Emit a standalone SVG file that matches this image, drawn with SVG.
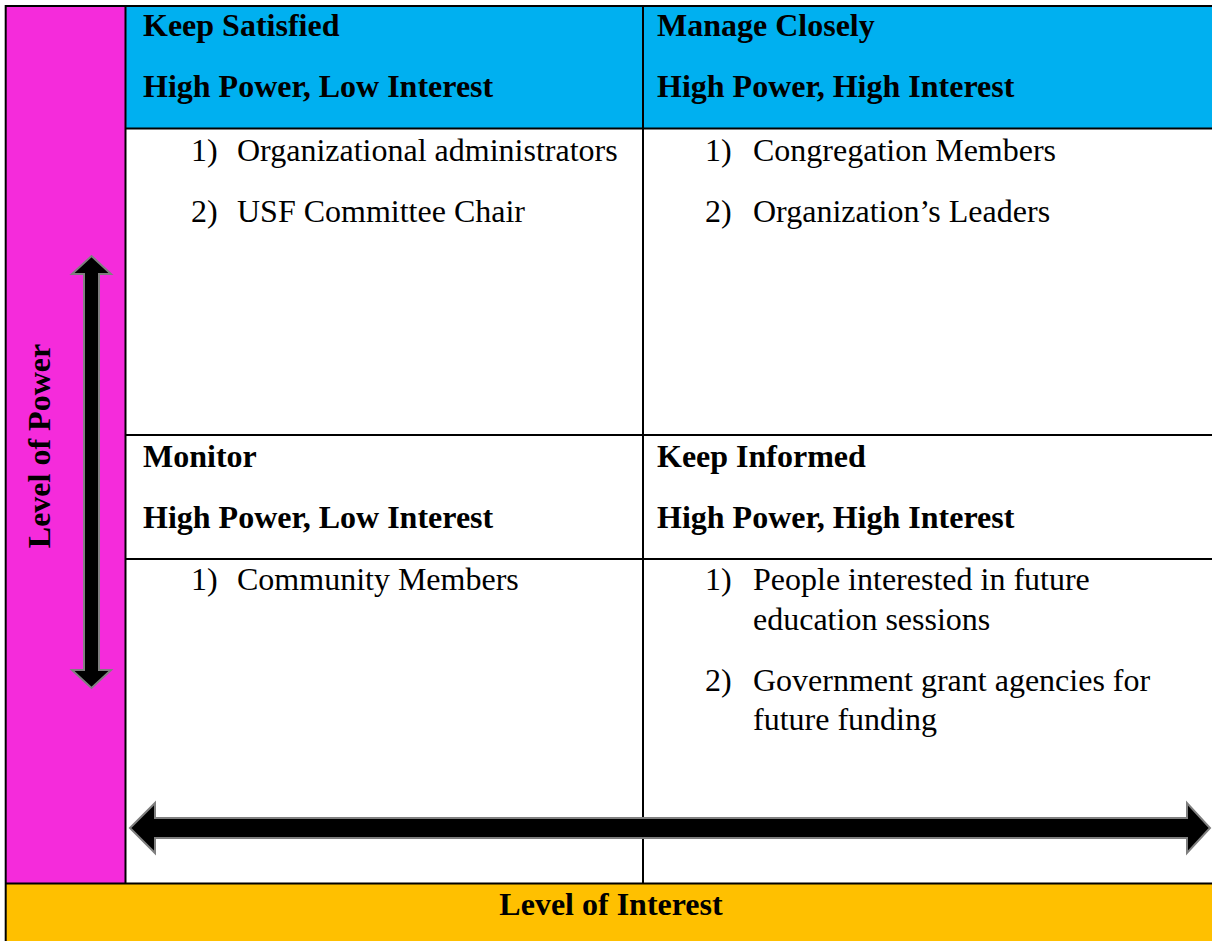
<svg xmlns="http://www.w3.org/2000/svg" width="1212" height="941" viewBox="0 0 1212 941">
<style>
  .t { font-family: "Liberation Serif", "Times New Roman", serif; font-size: 32px; fill: #000; }
  .b { font-weight: bold; }
  .ln { stroke: #000; stroke-width: 2; fill: none; }
  .arr { fill: #000; stroke: #7f7f7f; stroke-width: 2; stroke-linejoin: miter; }
</style>
<rect x="0" y="0" width="1212" height="941" fill="#ffffff"/>
<g id="power-axis">
  <rect x="6" y="6" width="120" height="878" fill="#F52BDB"/>
  <text class="t b" transform="translate(50,446) rotate(-90)" text-anchor="middle">Level of Power</text>
</g>
<g id="interest-axis">
  <rect x="6" y="884" width="1206" height="57" fill="#FFC000"/>
  <text class="t b" x="611" y="915" text-anchor="middle">Level of Interest</text>
</g>
<g id="keep-satisfied">
  <rect x="126" y="6" width="517" height="122" fill="#00B0F0"/>
  <text class="t b" x="143" y="36">Keep Satisfied</text>
  <text class="t b" x="143" y="97">High Power, Low Interest</text>
  <text class="t" x="191" y="161">1)</text>
  <text class="t" x="237" y="161">Organizational administrators</text>
  <text class="t" x="191" y="222">2)</text>
  <text class="t" x="237" y="222">USF Committee Chair</text>
</g>
<g id="manage-closely">
  <rect x="643" y="6" width="569" height="122" fill="#00B0F0"/>
  <text class="t b" x="657" y="36">Manage Closely</text>
  <text class="t b" x="657" y="97">High Power, High Interest</text>
  <text class="t" x="705" y="161">1)</text>
  <text class="t" x="753" y="161">Congregation Members</text>
  <text class="t" x="705" y="222">2)</text>
  <text class="t" x="753" y="222">Organization’s Leaders</text>
</g>
<g id="monitor">
  <text class="t b" x="143" y="467">Monitor</text>
  <text class="t b" x="143" y="528">High Power, Low Interest</text>
  <text class="t" x="191" y="590">1)</text>
  <text class="t" x="237" y="590">Community Members</text>
</g>
<g id="keep-informed">
  <text class="t b" x="657" y="467">Keep Informed</text>
  <text class="t b" x="657" y="528">High Power, High Interest</text>
  <text class="t" x="705" y="590">1)</text>
  <text class="t" x="753" y="590">People interested in future</text>
  <text class="t" x="753" y="630">education sessions</text>
  <text class="t" x="705" y="691">2)</text>
  <text class="t" x="753" y="691">Government grant agencies for</text>
  <text class="t" x="753" y="730">future funding</text>
</g>
<g id="grid">
  <line class="ln" x1="5" y1="6" x2="1212" y2="6"/>
  <line class="ln" x1="5.7" y1="5" x2="5.7" y2="941"/>
  <line class="ln" x1="125.5" y1="6" x2="125.5" y2="884"/>
  <line class="ln" x1="643" y1="6" x2="643" y2="884"/>
  <line class="ln" x1="125" y1="128.5" x2="1212" y2="128.5"/>
  <line class="ln" x1="125" y1="435" x2="1212" y2="435"/>
  <line class="ln" x1="125" y1="559" x2="1212" y2="559"/>
  <line class="ln" x1="5" y1="883.5" x2="1212" y2="883.5"/>
</g>
<g id="connectors">
  <polygon id="power-arrow" class="arr" points="91.5,256 111,274 99,274 99,670 111,670 91.5,688 72,670 84,670 84,274 72,274"/>
  <polygon id="interest-arrow" class="arr" points="130,828 155,803 155,818 1187,818 1187,803 1210,828 1187,853 1187,838 155,838 155,853"/>
</g>
</svg>
